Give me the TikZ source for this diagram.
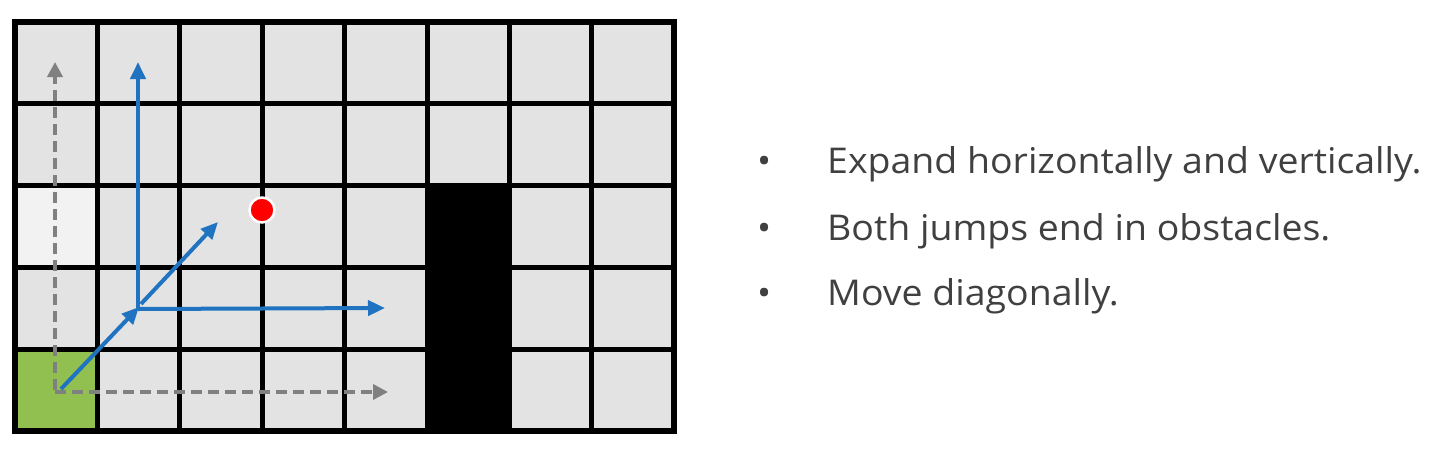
\documentclass[tikz,border=0pt]{standalone}
\usepackage{fontspec}
\setmainfont{Open Sans}
\usetikzlibrary{arrows.meta}
\definecolor{cellgray}{HTML}{E3E3E3}
\definecolor{celllight}{HTML}{F2F2F2}
\definecolor{startgreen}{HTML}{92C050}
\definecolor{jumpblue}{HTML}{1F73C0}
\definecolor{dashgray}{HTML}{808080}
\definecolor{textgray}{HTML}{404040}
\tikzset{
  gridline/.style={line width=5pt, draw=black},
  bluearrow/.style={draw=jumpblue, line width=4pt, -{Triangle[length=17pt,width=15pt]}},
  grayarrow/.style={draw=dashgray, line width=3.6pt, dash pattern=on 11pt off 6pt, -{Triangle[length=15pt,width=15pt]}},
  bullettext/.style={anchor=base west, text=textgray, font=\fontsize{35.5pt}{40pt}\selectfont, inner sep=0pt, xscale=1.055},
}
\begin{document}
\begin{tikzpicture}[x=1pt,y=-1pt]
\useasboundingbox (0,0) rectangle (1442,450);
% cells
\fill[cellgray] (15,22) rectangle (674,431);
\fill[celllight] (15,186) rectangle (97.4,268);
\fill[startgreen] (15,349) rectangle (97.4,431);
\fill[black] (427,186) rectangle (509.4,431);
% grid lines
\foreach \i in {0,...,8} {
  \draw[gridline] ({15+82.4*\i},22) -- ({15+82.4*\i},431);
}
\foreach \j in {0,...,5} {
  \draw[gridline] (15,{22+81.8*\j}) -- (674,{22+81.8*\j});
}
\draw[line width=6pt] (15,22) rectangle (674,431);
% coordinates
\coordinate (S) at (61,389);
\coordinate (Sv) at (55,390);
\coordinate (Sh) at (55,392);
\coordinate (UpTip) at (55,62);
\coordinate (RightTip) at (388,392);
\coordinate (J) at (139,307);
\coordinate (Jv) at (138,308);
\coordinate (Jh) at (138,309);
\coordinate (Jd) at (141,304);
\coordinate (VTip) at (138,62);
\coordinate (HTip) at (385,308);
\coordinate (DTip) at (218,222);
% dashed gray arrows
\draw[grayarrow] (Sv) -- (UpTip);
\draw[grayarrow] (Sh) -- (RightTip);
% blue arrows
\draw[bluearrow] (S) -- (J);
\draw[bluearrow] (Jv) -- (VTip);
\draw[bluearrow] (Jh) -- (HTip);
\draw[bluearrow] (Jd) -- (DTip);
% red dot
\node[circle, fill=red, draw=white, line width=2.5pt, minimum size=25pt, inner sep=0pt] (goal) at (262,210) {};
% text
\node[bullettext] (b1) at (757,173) {\textbullet};
\node[bullettext] (b2) at (757,240) {\textbullet};
\node[bullettext] (b3) at (757,305) {\textbullet};
\node[bullettext] (t1) at (827,173) {Expand horizontally and vertically.};
\node[bullettext] (t2) at (827,240) {Both jumps end in obstacles.};
\node[bullettext] (t3) at (827,305) {Move diagonally.};
\end{tikzpicture}
\end{document}
